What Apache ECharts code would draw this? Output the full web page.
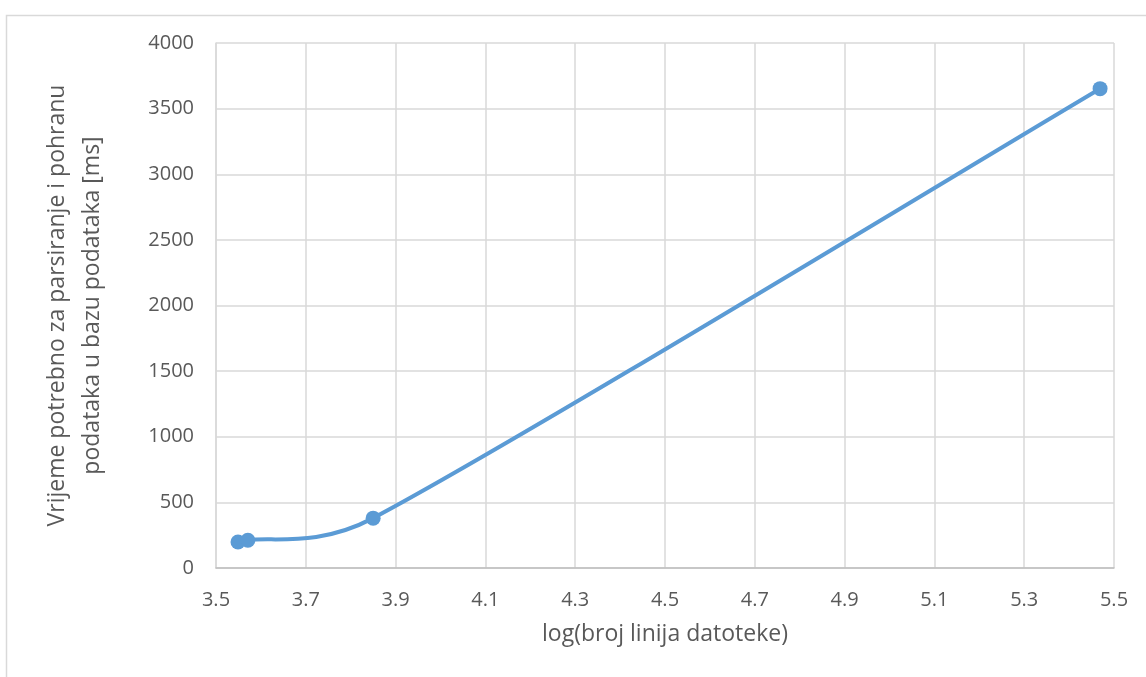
<!DOCTYPE html>
<html><head><meta charset="utf-8">
<script src="https://cdn.jsdelivr.net/npm/echarts@6/dist/echarts.min.js"></script>
<style>html,body{margin:0;padding:0;background:#fff}#c{width:1146px;height:677px}</style>
</head><body><div id="c"></div>
<script>
const xValues = [3.549, 3.571, 3.850, 5.469];
const yValues = [198, 211, 380, 3652];
const xTitle = 'log(broj linija datoteke)';
const yTitle = 'Vrijeme potrebno za parsiranje i pohranu\npodataka u bazu podataka [ms]';

const font = 'Open Sans';
const lineColor = '#5b9bd5';

// Excel-like smoothed scatter line, computed in pixel space from the axis scales
function renderSmooth(params, api) {
  if (params.dataIndex !== 0) return null;
  const p = xValues.map((x, i) => api.coord([x, yValues[i]]));
  const n = p.length;
  const children = [];
  const arm = (a, b, segLen) => {
    let vx = (b[0] - a[0]) / 6, vy = (b[1] - a[1]) / 6;
    const len = Math.hypot(vx, vy), cap = 0.5 * segLen;
    if (len > cap && len > 0) { vx *= cap / len; vy *= cap / len; }
    return [vx, vy];
  };
  for (let i = 0; i < n - 1; i++) {
    const p0 = p[Math.max(0, i - 1)], p1 = p[i], p2 = p[i + 1], p3 = p[Math.min(n - 1, i + 2)];
    const L = Math.hypot(p2[0] - p1[0], p2[1] - p1[1]);
    const a1 = arm(p0, p2, L), a2 = arm(p1, p3, L);
    children.push({
      type: 'bezierCurve',
      shape: {x1: p1[0], y1: p1[1], cpx1: p1[0] + a1[0], cpy1: p1[1] + a1[1],
              cpx2: p2[0] - a2[0], cpy2: p2[1] - a2[1], x2: p2[0], y2: p2[1]},
      style: {stroke: lineColor, lineWidth: 4, fill: null, lineCap: 'round'}
    });
  }
  return {type: 'group', children};
}

const points = xValues.map((x, i) => [x, yValues[i]]);
const chart = echarts.init(document.getElementById('c'));
chart.setOption({
  animation: false,
  graphic: [{type:'rect', shape:{x:6.5,y:15.5,width:1200,height:700}, style:{fill:'none',stroke:'#d9d9d9',lineWidth:1.5}, silent:true}],
  grid: {left:216, right:32, top:43, bottom:109},
  xAxis: {
    type:'value', min:3.5, max:5.5, interval:0.2,
    name:xTitle, nameLocation:'middle', nameGap:55,
    nameTextStyle:{fontFamily:font, fontSize:23, color:'#595959'},
    axisLine:{show:true, lineStyle:{color:'#bfbfbf', width:1.5}},
    axisTick:{show:false},
    axisLabel:{fontFamily:font, fontSize:20, color:'#595959', margin:22, formatter: v => (Math.round(v*10)/10).toFixed(1)},
    splitLine:{show:true, lineStyle:{color:'#d9d9d9', width:1.5}}
  },
  yAxis: {
    type:'value', min:0, max:4000, interval:500,
    name:yTitle, nameLocation:'middle', nameGap:106, nameRotate:90,
    nameTextStyle:{fontFamily:font, fontSize:23, color:'#595959', lineHeight:35},
    axisLine:{show:true, lineStyle:{color:'#d9d9d9', width:1.5}},
    axisTick:{show:false},
    axisLabel:{fontFamily:font, fontSize:20, color:'#595959', margin:22, formatter: v => String(v)},
    splitLine:{show:true, lineStyle:{color:'#d9d9d9', width:1.5}}
  },
  series: [
    {type:'custom', data: points, renderItem: renderSmooth, z: 2, silent: true},
    {type:'scatter', data: points, symbol:'circle', symbolSize:15, itemStyle:{color:lineColor, opacity:1}, z: 3}
  ]
});
</script></body></html>
